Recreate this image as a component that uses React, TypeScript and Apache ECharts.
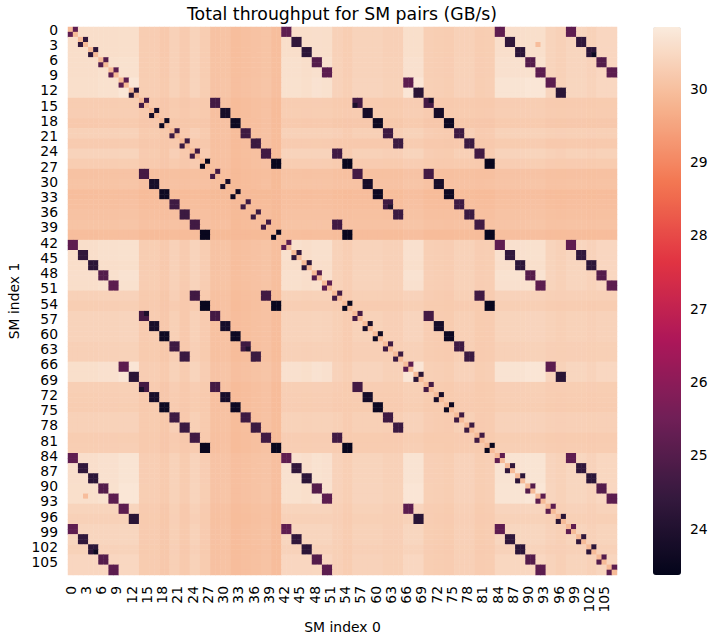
import React, { useEffect, useRef } from "react";
import * as echarts from "echarts";

const smLabels: string[] = Array.from({ length: 108 }, (_, i) => String(i));
const colorbarTicks = [24, 25, 26, 27, 28, 29, 30];
const rocket = ["#03051a", "#35193e", "#701f57", "#ad1759", "#e13342", "#f37651", "#f6b48f", "#faebdd"];
const scaleMin = 23.37;
const scaleMax = 30.84;

// throughput ceiling read per SM, row by row
const smCeiling = [
  30.58, 30.58, 30.58, 30.58, 30.58, 30.58, 30.62, 30.62, 30.62, 30.62, 30.75, 30.75, 30.75, 30.75,
  30.2, 30.2, 30.22, 30.22, 30.14, 30.14, 30.3, 30.3, 30.17, 30.17, 30.34, 30.34, 30.2, 30.2,
  29.98, 29.98, 30.01, 30.01, 29.89, 29.89, 29.93, 29.93, 29.97, 29.97, 30.01, 30.01, 29.89, 29.89,
  30.62, 30.62, 30.62, 30.62, 30.58, 30.58, 30.66, 30.66, 30.62, 30.62, 30.31, 30.31, 30.23, 30.23,
  30.35, 30.35, 30.35, 30.35, 30.35, 30.35, 30.29, 30.29, 30.29, 30.29, 30.73, 30.73, 30.73, 30.73,
  30.25, 30.25, 30.23, 30.23, 30.21, 30.21, 30.31, 30.31, 30.31, 30.31, 30.21, 30.21, 30.23, 30.23,
  30.69, 30.69, 30.69, 30.69, 30.69, 30.69, 30.75, 30.75, 30.75, 30.75, 30.36, 30.36, 30.3, 30.3,
  30.39, 30.39, 30.39, 30.39, 30.32, 30.32, 30.42, 30.42, 30.42, 30.42,
];

// first SM of each pair that shares a link, with the level read for that family
const linkFamilies: number[][] = [
  [0, 42, 84, 98], [2, 44, 86, 100], [4, 46, 88, 102], [6, 48, 90, 104], [8, 50, 92, 106],
  [10, 66, 94], [12, 68, 96], [14, 28, 56, 70], [16, 30, 58, 72], [18, 32, 60, 74],
  [20, 34, 62, 76], [22, 36, 64, 78], [24, 38, 52, 80], [26, 40, 54, 82],
];
const familyLevels = [25.2, 24.35, 24.25, 25.0, 25.15, 25.15, 24.2, 24.7, 23.8, 23.6, 24.6, 24.55, 24.65, 23.5];
const selfLevel = 29.9;
// isolated cells: [row, column, value], mirrored
const singleCells: number[][] = [[3, 92, 29.95], [5, 103, 23.6], [15, 56, 23.9], [14, 71, 23.9], [35, 63, 24.0]];

function buildCells(): number[][] {
  const n = smCeiling.length;
  const m: number[][] = [];
  for (let i = 0; i < n; i++) {
    m.push([]);
    for (let j = 0; j < n; j++) {
      const a = smCeiling[i], b = smCeiling[j];
      m[i].push(0.88 * Math.min(a, b) + 0.12 * Math.max(a, b));
    }
    m[i][i] = selfLevel;
  }
  linkFamilies.forEach((fam, f) => {
    fam.forEach((p) => {
      m[p][p + 1] = familyLevels[f];
      m[p + 1][p] = familyLevels[f];
      fam.forEach((q) => {
        if (q === p) return;
        for (const r of [p, p + 1]) for (const c of [q, q + 1]) m[r][c] = familyLevels[f];
      });
    });
  });
  singleCells.forEach(([r, c, v]) => {
    m[r][c] = v;
    m[c][r] = v;
  });
  const out: number[][] = [];
  m.forEach((row, r) => row.forEach((v, c) => out.push([c, r, Math.round(v * 100) / 100])));
  return out;
}

const font = "DejaVu Sans";

export default function App() {
  const ref = useRef<HTMLDivElement>(null);
  useEffect(() => {
    const chart = echarts.init(ref.current!, undefined, { renderer: "svg" });
    chart.setOption({
      animation: false,
      title: {
        text: "Total throughput for SM pairs (GB/s)",
        left: 187,
        top: 5,
        padding: 0,
        textStyle: { fontFamily: font, fontSize: 17.3, fontWeight: "normal", color: "#000" },
      },
      grid: [
        { left: 68, top: 27, width: 549, height: 548, outerBoundsMode: "none" },
        { left: 653, top: 27, width: 28, height: 548, outerBoundsMode: "none" },
      ],
      xAxis: [
        {
          type: "category",
          gridIndex: 0,
          data: smLabels,
          name: "SM index 0",
          nameLocation: "middle",
          nameGap: 42,
          nameTextStyle: { fontFamily: font, fontSize: 13.9, color: "#000" },
          axisLine: { show: false },
          axisTick: { interval: 2, alignWithLabel: true, length: 5, lineStyle: { color: "#000", width: 1 } },
          axisLabel: { interval: 2, rotate: 90, margin: 11, fontFamily: font, fontSize: 13.9, color: "#000" },
          splitLine: { show: false },
          splitArea: { show: false },
        },
        { type: "value", gridIndex: 1, min: 0, max: 1, show: false },
      ],
      yAxis: [
        {
          type: "category",
          gridIndex: 0,
          inverse: true,
          data: smLabels,
          name: "SM index 1",
          nameLocation: "middle",
          nameGap: 40,
          nameTextStyle: { fontFamily: font, fontSize: 13.9, color: "#000" },
          axisLine: { show: false },
          axisTick: { interval: 2, alignWithLabel: true, length: 5, lineStyle: { color: "#000", width: 1 } },
          axisLabel: { interval: 2, margin: 10, fontFamily: font, fontSize: 13.9, color: "#000" },
          splitLine: { show: false },
          splitArea: { show: false },
        },
        {
          type: "value",
          gridIndex: 1,
          position: "right",
          min: scaleMin,
          max: scaleMax,
          axisLine: { show: false },
          axisTick: { show: true, customValues: colorbarTicks, length: 5, lineStyle: { color: "#000", width: 1 } },
          axisLabel: { customValues: colorbarTicks, margin: 9, fontFamily: font, fontSize: 13.9, color: "#000" },
          splitLine: { show: false },
        },
      ],
      visualMap: {
        type: "continuous",
        min: scaleMin,
        max: scaleMax,
        seriesIndex: 0,
        calculable: false,
        hoverLink: false,
        realtime: false,
        left: 653,
        top: 27,
        itemWidth: 28,
        itemHeight: 548,
        padding: 0,
        text: ["", ""],
        showLabel: false,
        inRange: { color: rocket },
      },
      series: [
        {
          type: "heatmap",
          xAxisIndex: 0,
          yAxisIndex: 0,
          data: buildCells(),
          progressive: 0,
          emphasis: { disabled: true },
          itemStyle: { borderWidth: 0 },
        },
      ],
    });
    return () => chart.dispose();
  }, []);
  return <div ref={ref} style={{ width: 709, height: 635, position: "absolute", left: 0, top: 0 }} />;
}
